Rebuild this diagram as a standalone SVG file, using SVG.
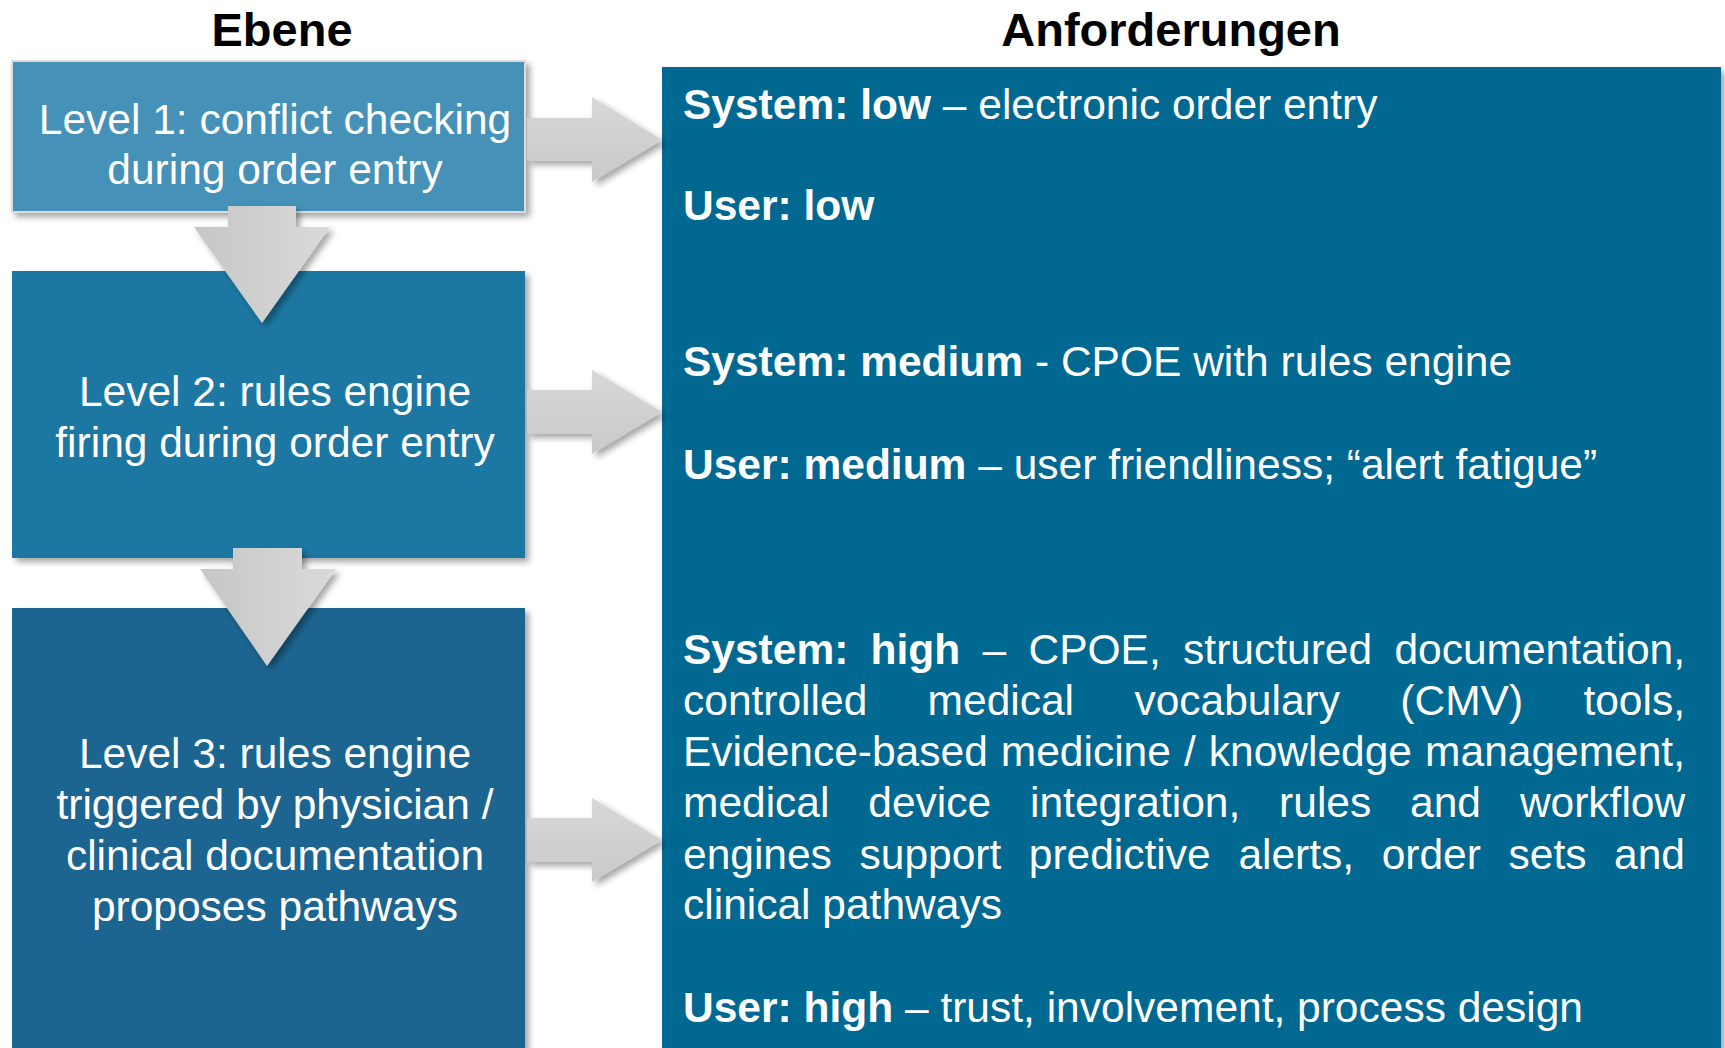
<svg xmlns="http://www.w3.org/2000/svg" width="1725" height="1048" viewBox="0 0 1725 1048">
<style>
.hdr{font-family:"Liberation Sans",Arial,sans-serif;font-size:47px;font-weight:bold;fill:#000;text-anchor:middle}
.lvl{font-family:"Liberation Sans",Arial,sans-serif;font-size:42.5px;fill:#fff;text-anchor:middle}
.req{font-family:"Liberation Sans",Arial,sans-serif;font-size:42.5px;fill:#fff}
.b{font-weight:bold}
.arrow-h{fill:url(#gh);filter:url(#sh)}
.arrow-v{fill:url(#gv);filter:url(#sh)}
</style>
<defs>
<filter id="sh" x="-20%" y="-20%" width="150%" height="150%">
<feDropShadow dx="4" dy="4" stdDeviation="3" flood-color="#000" flood-opacity="0.35"/>
</filter>
<linearGradient id="gh" x1="0" y1="0" x2="0" y2="1">
<stop offset="0" stop-color="#d8d8d8"/>
<stop offset="1" stop-color="#c9c9c9"/>
</linearGradient>
<linearGradient id="gv" x1="0" y1="0" x2="1" y2="0">
<stop offset="0" stop-color="#c6c6c6"/>
<stop offset="1" stop-color="#dadada"/>
</linearGradient>
</defs>
<rect width="1725" height="1048" fill="#fff"/>
<text class="hdr" x="282" y="46">Ebene</text>
<text class="hdr" x="1171" y="46">Anforderungen</text>

<g id="requirements">
<rect x="662" y="67" width="1059" height="990" fill="#046891" filter="url(#sh)"/>
<text class="req" x="683" y="119"><tspan class="b">System: low</tspan> – electronic order entry</text>
<text class="req" x="683" y="220"><tspan class="b">User: low</tspan></text>
<text class="req" x="683" y="376"><tspan class="b">System: medium</tspan> - CPOE with rules engine</text>
<text class="req" x="683" y="479"><tspan class="b">User: medium</tspan> – user friendliness; “alert fatigue”</text>
<text class="req" y="664"><tspan class="b" x="683">System:</tspan><tspan class="b" x="870.6">high</tspan><tspan x="982.6">–</tspan><tspan x="1028.5">CPOE,</tspan><tspan x="1183.1">structured</tspan><tspan x="1394.4">documentation,</tspan></text>
<text class="req" y="715"><tspan x="683">controlled</tspan><tspan x="927.6">medical</tspan><tspan x="1134.4">vocabulary</tspan><tspan x="1400.3">(CMV)</tspan><tspan x="1583.4">tools,</tspan></text>
<text class="req" y="766"><tspan x="683">Evidence-based</tspan><tspan x="1000.8">medicine</tspan><tspan x="1183.9">/</tspan><tspan x="1208.8">knowledge</tspan><tspan x="1425.1">management,</tspan></text>
<text class="req" y="817"><tspan x="683">medical</tspan><tspan x="868.3">device</tspan><tspan x="1030">integration,</tspan><tspan x="1279.1">rules</tspan><tspan x="1410.1">and</tspan><tspan x="1519.9">workflow</tspan></text>
<text class="req" y="869"><tspan x="683">engines</tspan><tspan x="859.5">support</tspan><tspan x="1028.8">predictive</tspan><tspan x="1238.4">alerts,</tspan><tspan x="1381.7">order</tspan><tspan x="1508.6">sets</tspan><tspan x="1614.1">and</tspan></text>
<text class="req" x="683" y="919">clinical pathways</text>
<text class="req" x="683" y="1022"><tspan class="b">User: high</tspan> – trust, involvement, process design</text>
</g>

<g id="level3">
<rect x="12" y="608" width="513" height="450" fill="#1f6590" filter="url(#sh)"/>
<text class="lvl" x="275" y="768">Level 3: rules engine</text>
<text class="lvl" x="275" y="819">triggered by physician /</text>
<text class="lvl" x="275" y="870">clinical documentation</text>
<text class="lvl" x="275" y="921">proposes pathways</text>
</g>

<g id="level2">
<rect x="12" y="271" width="513" height="287" fill="#1f78a2" filter="url(#sh)"/>
<text class="lvl" x="275" y="406">Level 2: rules engine</text>
<text class="lvl" x="275" y="457">firing during order entry</text>
</g>

<g id="level1">
<rect x="12" y="61" width="513" height="151" fill="#4591b8" stroke="#dcdcdc" stroke-width="2" filter="url(#sh)"/>
<text class="lvl" x="275" y="134">Level 1: conflict checking</text>
<text class="lvl" x="275" y="184">during order entry</text>
</g>

<g id="connectors">
<path class="arrow-h" d="M527,118 H592 V97 L662,140 L592,182 V161 H527 Z"/>
<path class="arrow-h" d="M527,390 H592 V370 L662,412 L592,454 V434 H527 Z"/>
<path class="arrow-h" d="M527,818 H592 V798 L662,840 L592,882 V862 H527 Z"/>
<path class="arrow-v" d="M228,206 H296 V227 H330 L262,323 L194,227 H228 Z"/>
<path class="arrow-v" d="M233,548 H302 V569 H336 L267,666 L200,569 H233 Z"/>
</g>
</svg>
